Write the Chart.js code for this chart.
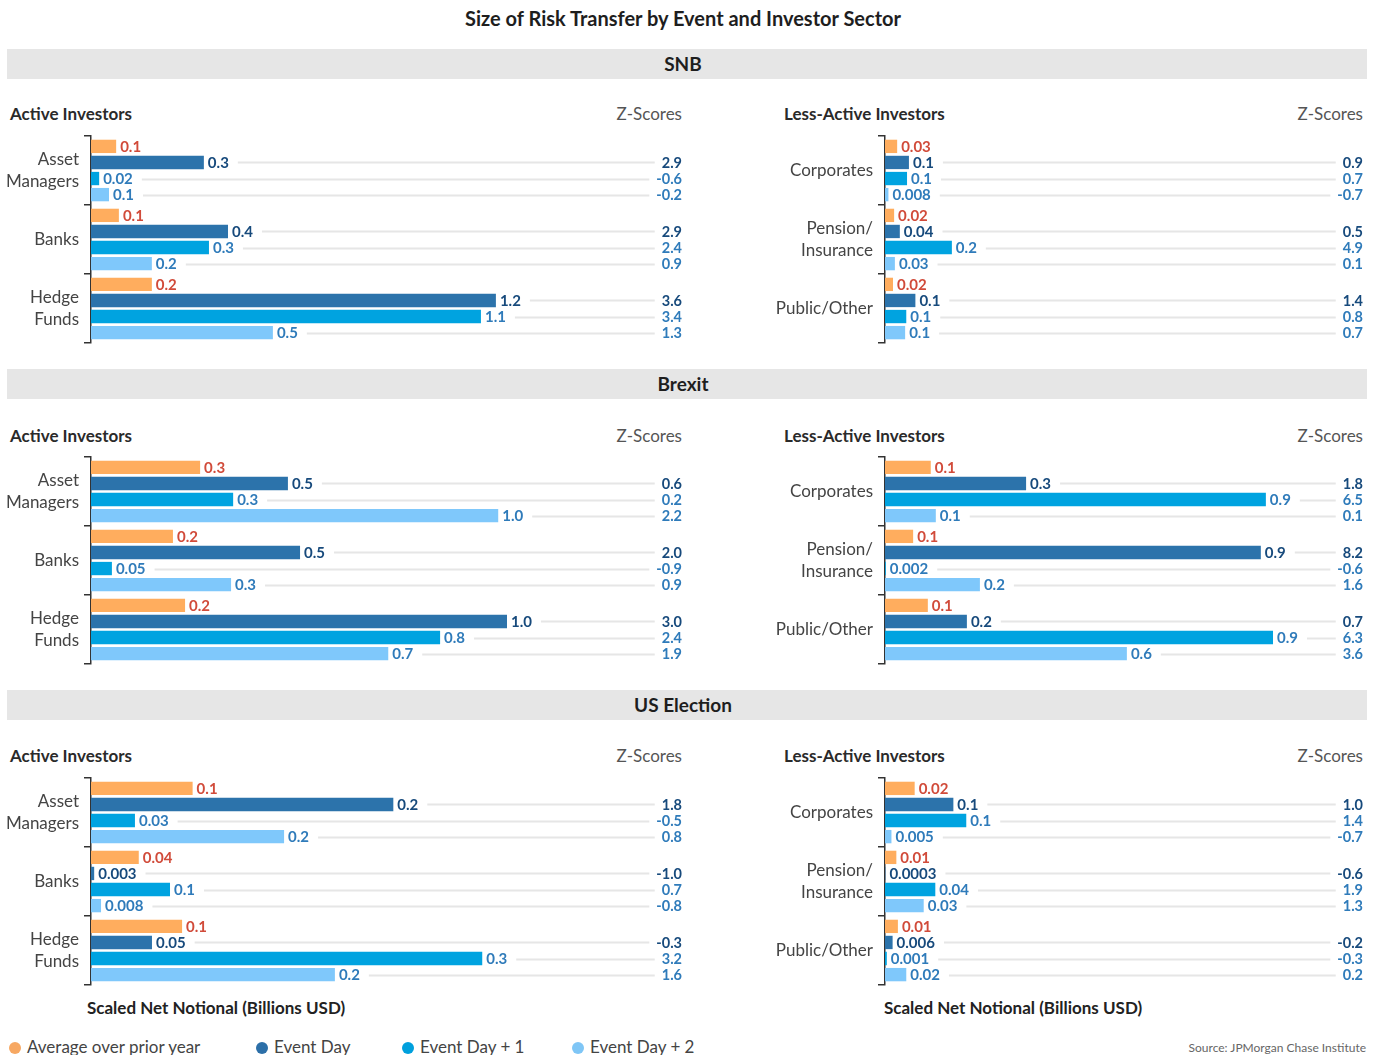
<!DOCTYPE html>
<html><head><meta charset="utf-8">
<script src="https://cdn.jsdelivr.net/npm/chart.js@4.4.1/dist/chart.umd.min.js"></script>
<style>
  html,body{margin:0;padding:0;background:#fff;}
  body{width:1384px;height:1055px;position:relative;overflow:hidden;font-family:Lato,"Open Sans",sans-serif;color:#222;}
  .t{position:absolute;white-space:nowrap;}
  .band{position:absolute;left:7px;width:1352px;padding-right:8px;height:30px;background:#e6e6e6;text-align:center;line-height:30px;font-weight:700;font-size:19px;color:#1e1e1e;}
  .sub{font-size:17px;font-weight:700;color:#2a2a2a;height:22px;line-height:22px;}
  .zs{font-size:17px;color:#555;height:22px;line-height:22px;text-align:right;}
  .axt{font-size:17px;font-weight:700;color:#222;height:24px;line-height:24px;}
  canvas{position:absolute;}
  .leg{position:absolute;top:1036px;height:22px;line-height:22px;font-size:17px;color:#444;white-space:nowrap;}
  .dot{display:inline-block;width:12px;height:12px;border-radius:50%;margin-right:6px;vertical-align:-1px;}
</style>
</head><body>
<div class="t" style="left:0;width:1366px;top:6px;text-align:center;font-size:20px;font-weight:700;color:#1e1e1e;line-height:24px;">Size of Risk Transfer by Event and Investor Sector</div>

<div class="band" style="top:49px;">SNB</div>
<div class="band" style="top:369px;">Brexit</div>
<div class="band" style="top:690px;">US Election</div>

<div class="t sub" style="left:10px;top:103px;">Active Investors</div>
<div class="t zs" style="right:702px;top:103px;">Z-Scores</div>
<div class="t sub" style="left:784px;top:103px;">Less-Active Investors</div>
<div class="t zs" style="right:21px;top:103px;">Z-Scores</div>

<div class="t sub" style="left:10px;top:425px;">Active Investors</div>
<div class="t zs" style="right:702px;top:425px;">Z-Scores</div>
<div class="t sub" style="left:784px;top:425px;">Less-Active Investors</div>
<div class="t zs" style="right:21px;top:425px;">Z-Scores</div>

<div class="t sub" style="left:10px;top:745px;">Active Investors</div>
<div class="t zs" style="right:702px;top:745px;">Z-Scores</div>
<div class="t sub" style="left:784px;top:745px;">Less-Active Investors</div>
<div class="t zs" style="right:21px;top:745px;">Z-Scores</div>

<canvas id="c1" width="692" height="215" style="left:0;top:132px;"></canvas>
<canvas id="c2" width="692" height="215" style="left:692px;top:132px;"></canvas>
<canvas id="c3" width="692" height="215" style="left:0;top:453px;"></canvas>
<canvas id="c4" width="692" height="215" style="left:692px;top:453px;"></canvas>
<canvas id="c5" width="692" height="215" style="left:0;top:774px;"></canvas>
<canvas id="c6" width="692" height="215" style="left:692px;top:774px;"></canvas>

<div class="t axt" style="left:87px;top:996px;">Scaled Net Notional (Billions USD)</div>
<div class="t axt" style="left:884px;top:996px;">Scaled Net Notional (Billions USD)</div>

<div id="legend"></div>
<div class="t" style="right:18px;top:1040px;font-size:12px;color:#666;line-height:16px;">Source: JPMorgan Chase Institute</div>

<script>
// ---------- data ----------
const seriesNames = ['Average over prior year', 'Event Day', 'Event Day + 1', 'Event Day + 2'];
const activeCategories = [['Asset', 'Managers'], 'Banks', ['Hedge', 'Funds']];
const lessActiveCategories = ['Corporates', ['Pension/', 'Insurance'], 'Public/Other'];

// rows = categories, columns = [avg prior year, event day, day+1, day+2]
const snbActiveValues = [[0.074, 0.332, 0.024, 0.053], [0.082, 0.403, 0.347, 0.179], [0.179, 1.191, 1.147, 0.535]];
const snbActiveLabels = [['0.1', '0.3', '0.02', '0.1'], ['0.1', '0.4', '0.3', '0.2'], ['0.2', '1.2', '1.1', '0.5']];
const snbActiveZ = [['2.9', '-0.6', '-0.2'], ['2.9', '2.4', '0.9'], ['3.6', '3.4', '1.3']];

const snbLessValues = [[0.032, 0.063, 0.058, 0.009], [0.024, 0.039, 0.176, 0.026], [0.021, 0.080, 0.056, 0.053]];
const snbLessLabels = [['0.03', '0.1', '0.1', '0.008'], ['0.02', '0.04', '0.2', '0.03'], ['0.02', '0.1', '0.1', '0.1']];
const snbLessZ = [['0.9', '0.7', '-0.7'], ['0.5', '4.9', '0.1'], ['1.4', '0.8', '0.7']];

const brexitActiveValues = [[0.261, 0.471, 0.340, 0.974], [0.196, 0.500, 0.050, 0.335], [0.225, 0.995, 0.835, 0.711]];
const brexitActiveLabels = [['0.3', '0.5', '0.3', '1.0'], ['0.2', '0.5', '0.05', '0.3'], ['0.2', '1.0', '0.8', '0.7']];
const brexitActiveZ = [['0.6', '0.2', '2.2'], ['2.0', '-0.9', '0.9'], ['3.0', '2.4', '1.9']];

const brexitLessValues = [[0.109, 0.336, 0.907, 0.121], [0.067, 0.895, 0.002, 0.226], [0.102, 0.195, 0.924, 0.576]];
const brexitLessLabels = [['0.1', '0.3', '0.9', '0.1'], ['0.1', '0.9', '0.002', '0.2'], ['0.1', '0.2', '0.9', '0.6']];
const brexitLessZ = [['1.8', '6.5', '0.1'], ['8.2', '-0.6', '1.6'], ['0.7', '6.3', '3.6']];

const usActiveValues = [[0.080, 0.238, 0.0346, 0.152], [0.0376, 0.0025, 0.0622, 0.0079], [0.0717, 0.048, 0.308, 0.192]];
const usActiveLabels = [['0.1', '0.2', '0.03', '0.2'], ['0.04', '0.003', '0.1', '0.008'], ['0.1', '0.05', '0.3', '0.2']];
const usActiveZ = [['1.8', '-0.5', '0.8'], ['-1.0', '0.7', '-0.8'], ['-0.3', '3.2', '1.6']];

const usLessValues = [[0.023, 0.053, 0.063, 0.005], [0.0088, 0.0003, 0.039, 0.030], [0.010, 0.0059, 0.0014, 0.0165]];
const usLessLabels = [['0.02', '0.1', '0.1', '0.005'], ['0.01', '0.0003', '0.04', '0.03'], ['0.01', '0.006', '0.001', '0.02']];
const usLessZ = [['1.0', '1.4', '-0.7'], ['-0.6', '1.9', '1.3'], ['-0.2', '-0.3', '0.2']];

// ---------- styles ----------
const FONT = 'Lato, "Open Sans", sans-serif';
const barColors = ['#FFAD5E', '#2C73AB', '#00A3E0', '#7FC8FB'];
const valueLabelColors = ['#D14B3A', '#174A7C', '#2F7BBA', '#2F7BBA'];
const zColors = ['#174A7C', '#2F7BBA', '#2F7BBA'];
const legendDotColors = ['#F7A862', '#2C6FA8', '#00A0DD', '#7FC6F6'];

const annotPlugin = {
  id: 'annot',
  afterDatasetsDraw(chart) {
    const opts = chart.options.plugins.annot;
    const ctx = chart.ctx;
    const area = chart.chartArea;
    const zRight = area.right + 27;
    ctx.save();
    for (let s = 0; s < 4; s++) {
      const meta = chart.getDatasetMeta(s);
      meta.data.forEach((bar, i) => {
        const txt = opts.labels[i][s];
        ctx.font = '700 15px ' + FONT;
        ctx.textBaseline = 'middle';
        ctx.textAlign = 'left';
        ctx.fillStyle = valueLabelColors[s];
        const x = bar.x + 4;
        ctx.fillText(txt, x, bar.y + 1);
        if (s > 0) {
          const w = ctx.measureText(txt).width;
          const z = opts.z[i][s - 1];
          ctx.font = '700 14.5px ' + FONT;
          const zw = ctx.measureText(z).width;
          ctx.strokeStyle = '#e6e6e6';
          ctx.lineWidth = 2;
          ctx.beginPath();
          ctx.moveTo(x + w + 9, Math.round(bar.y) + 0.5);
          ctx.lineTo(zRight - zw - 7, Math.round(bar.y) + 0.5);
          ctx.stroke();
          ctx.textAlign = 'right';
          ctx.fillStyle = zColors[s - 1];
          ctx.fillText(z, zRight, bar.y + 1);
        }
      });
    }
    ctx.restore();
  }
};

function makePanel(id, categories, values, labels, zs, xMax, axisWidth, rightPad) {
  const datasets = seriesNames.map((name, s) => ({
    label: name,
    data: values.map(row => row[s]),
    backgroundColor: barColors[s],
    borderWidth: 0,
    categoryPercentage: 0.932,
    barPercentage: 0.83
  }));
  return new Chart(document.getElementById(id), {
    type: 'bar',
    data: { labels: categories, datasets },
    options: {
      indexAxis: 'y',
      responsive: false,
      animation: false,
      layout: { padding: { top: 4, bottom: 4, left: 0, right: rightPad } },
      plugins: { legend: { display: false }, tooltip: { enabled: false }, annot: { labels, z: zs } },
      scales: {
        x: { display: false, min: 0, max: xMax },
        y: {
          offset: true,
          grid: { offset: true, drawOnChartArea: false, color: '#333', lineWidth: 1.5, tickLength: 7 },
          border: { display: true, color: '#333', width: 1.5 },
          ticks: { color: '#444', padding: 5, font: { family: FONT, size: 17, lineHeight: 1.3 } },
          afterFit(scale) { scale.width = axisWidth; scale.paddingTop = 0; scale.paddingBottom = 0; }
        }
      }
    },
    plugins: [annotPlugin]
  });
}

makePanel('c1', activeCategories, snbActiveValues, snbActiveLabels, snbActiveZ, 1.659, 91, 37);
makePanel('c2', lessActiveCategories, snbLessValues, snbLessLabels, snbLessZ, 1.187, 193, 48);
makePanel('c3', activeCategories, brexitActiveValues, brexitActiveLabels, brexitActiveZ, 1.349, 91, 37);
makePanel('c4', lessActiveCategories, brexitLessValues, brexitLessLabels, brexitLessZ, 1.074, 193, 48);
makePanel('c5', activeCategories, usActiveValues, usActiveLabels, usActiveZ, 0.444, 91, 37);
makePanel('c6', lessActiveCategories, usLessValues, usLessLabels, usLessZ, 0.3496, 193, 48);

// legend
const legendX = [9, 256, 402, 572];
const legend = document.getElementById('legend');
seriesNames.forEach((name, s) => {
  const d = document.createElement('div');
  d.className = 'leg';
  d.style.left = legendX[s] + 'px';
  d.innerHTML = '<span class="dot" style="background:' + legendDotColors[s] + '"></span>' + name;
  legend.appendChild(d);
});
</script>
</body></html>
